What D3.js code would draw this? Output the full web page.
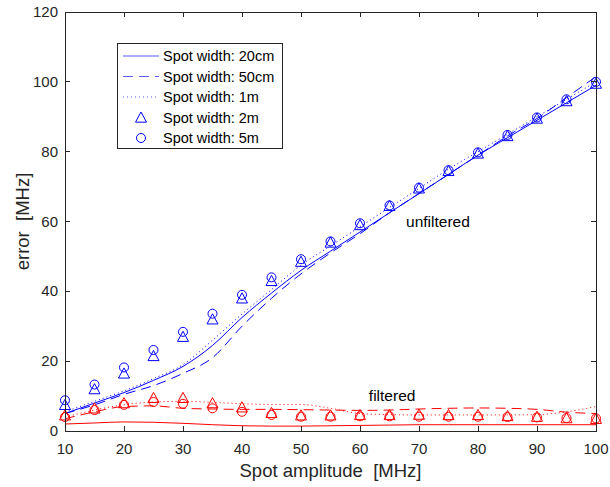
<!DOCTYPE html>
<html>
<head>
<meta charset="utf-8">
<script src="https://cdn.jsdelivr.net/npm/d3@7"></script>
<style>
  body { margin: 0; background: #fff; }
  svg { font-family: Arial, "Liberation Sans", sans-serif; }
</style>
</head>
<body>
<script>
// x values (Spot amplitude, MHz)
const amplitudes = [10, 15, 20, 25, 30, 35, 40, 45, 50, 55, 60, 65, 70, 75, 80, 85, 90, 95, 100]

// unfiltered error (blue)
const unf20cm = [5, 8, 11, 14.5, 18.5, 24.5, 32.5, 39.5, 46, 51.5, 57, 62.5, 68, 73.5, 79, 84, 89, 94, 99]
const unf50cm = [5, 7.5, 10.5, 13, 16.5, 21, 30, 38, 45, 51, 56.5, 62.5, 68, 73.5, 79, 84.5, 89.5, 95.5, 101.5]
const unf1m = [5.5, 8.5, 11.5, 15, 19, 26, 33.5, 40.5, 47.5, 53, 58.5, 64, 69.5, 75, 80, 85, 90, 95, 100]
const unf2m = [7.5, 12, 16.5, 21.5, 27, 32, 38, 43, 48.5, 54, 59, 64.5, 69.5, 74.5, 79.5, 84.5, 89.5, 94.5, 99.5]
const unf5m = [8.8, 13.3, 18.2, 23.2, 28.4, 33.6, 39, 44, 49.2, 54.3, 59.5, 64.6, 69.7, 74.7, 79.8, 84.8, 89.8, 95, 100]

// filtered error (red)
const fil20cm = [2, 2.3, 2.6, 2.5, 2.2, 1.8, 1.5, 1.4, 1.4, 1.5, 1.6, 1.7, 1.8, 1.8, 1.8, 1.8, 1.8, 1.8, 1.8]
const fil50cm = [3.5, 5.5, 7, 7.2, 6.5, 6.3, 6.2, 6.2, 6.1, 6, 5.9, 6, 6.3, 6.5, 6.6, 6.5, 6.2, 5.4, 5]
const fil1m = [4, 6, 7.5, 8.3, 8.5, 8.2, 7.8, 7.6, 7.6, 6.5, 5, 4.7, 4.6, 4.6, 4.6, 4.6, 4.7, 5.5, 7]
const fil2m = [4.5, 6.5, 8, 9.5, 9.5, 8, 6.8, 5.2, 4.5, 4.5, 4.6, 4.6, 4.7, 4.6, 4.6, 4.3, 4.1, 3.7, 3.5]
const fil5m = [4, 6, 7.5, 8.3, 7.8, 6.5, 5.5, 4.6, 4.1, 4.1, 4.2, 4.2, 4.1, 4.1, 4.1, 4, 3.9, 3.7, 3.6]

const legendLabels = ['Spot width: 20cm', 'Spot width: 50cm', 'Spot width: 1m', 'Spot width: 2m', 'Spot width: 5m']
const xTicks = [10, 20, 30, 40, 50, 60, 70, 80, 90, 100]
const yTicks = [0, 20, 40, 60, 80, 100, 120]

const width = 610
const height = 487
const margin = {top: 12, right: 14, bottom: 56, left: 65}
const textColor = '#262626'
const blue = '#0000ff'
const red = '#ff0000'
const dashPattern = '10,6'
const dotPattern = '1,3'

const svg = d3.select('body').append('svg')
    .attr('width', width)
    .attr('height', height)

const x = d3.scaleLinear().domain([10, 100]).range([margin.left, width - margin.right])
const y = d3.scaleLinear().domain([0, 120]).range([height - margin.bottom, margin.top])

const plot = svg.append('g')

const lineGen = d3.line()
    .x(d => x(d[0]))
    .y(d => y(d[1]))
    .curve(d3.curveMonotoneX)

const pairs = (vals) => amplitudes.map((a, i) => [a, vals[i]])

function drawLine(vals, color, dash) {
    plot.append('path')
        .datum(pairs(vals))
        .attr('fill', 'none')
        .attr('stroke', color)
        .attr('stroke-width', 1)
        .attr('stroke-dasharray', dash)
        .attr('d', lineGen)
}

const triangle = (cx, cy, r) => `M${cx},${cy - r}L${cx + r},${cy + r * 0.85}L${cx - r},${cy + r * 0.85}Z`

function drawTriangles(vals, color) {
    plot.append('g').selectAll('path')
        .data(pairs(vals))
        .join('path')
        .attr('d', d => triangle(x(d[0]), y(d[1]), 5.5))
        .attr('fill', 'none')
        .attr('stroke', color)
        .attr('stroke-width', 1)
}

function drawCircles(vals, color) {
    plot.append('g').selectAll('circle')
        .data(pairs(vals))
        .join('circle')
        .attr('cx', d => x(d[0]))
        .attr('cy', d => y(d[1]))
        .attr('r', 4.5)
        .attr('fill', 'none')
        .attr('stroke', color)
        .attr('stroke-width', 1)
}

drawLine(unf20cm, blue, null)
drawLine(unf50cm, blue, dashPattern)
drawLine(unf1m, blue, dotPattern)
drawTriangles(unf2m, blue)
drawCircles(unf5m, blue)

drawLine(fil20cm, red, null)
drawLine(fil50cm, red, dashPattern)
drawLine(fil1m, red, dotPattern)
drawTriangles(fil2m, red)
drawCircles(fil5m, red)

// axes box with inward ticks, MATLAB style
const axisG = svg.append('g')
    .attr('stroke', textColor)
    .attr('fill', 'none')
    .attr('shape-rendering', 'crispEdges')

axisG.append('rect')
    .attr('x', x(10)).attr('y', y(120))
    .attr('width', x(100) - x(10)).attr('height', y(0) - y(120))

const tickLen = 5
axisG.selectAll('line.xb').data(xTicks).join('line')
    .attr('x1', d => x(d)).attr('x2', d => x(d))
    .attr('y1', y(0)).attr('y2', y(0) - tickLen)
axisG.selectAll('line.xt').data(xTicks).join('line')
    .attr('x1', d => x(d)).attr('x2', d => x(d))
    .attr('y1', y(120)).attr('y2', y(120) + tickLen)
axisG.selectAll('line.yl').data(yTicks).join('line')
    .attr('y1', d => y(d)).attr('y2', d => y(d))
    .attr('x1', x(10)).attr('x2', x(10) + tickLen)
axisG.selectAll('line.yr').data(yTicks).join('line')
    .attr('y1', d => y(d)).attr('y2', d => y(d))
    .attr('x1', x(100)).attr('x2', x(100) - tickLen)

svg.append('g').selectAll('text').data(xTicks).join('text')
    .attr('x', d => x(d))
    .attr('y', y(0) + 23)
    .attr('text-anchor', 'middle')
    .attr('font-size', 15)
    .attr('fill', textColor)
    .text(d => d)

svg.append('g').selectAll('text').data(yTicks).join('text')
    .attr('x', x(10) - 7)
    .attr('y', d => y(d) + 5)
    .attr('text-anchor', 'end')
    .attr('font-size', 15)
    .attr('fill', textColor)
    .text(d => d)

svg.append('text')
    .attr('x', (x(10) + x(100)) / 2)
    .attr('y', 477)
    .attr('text-anchor', 'middle')
    .attr('font-size', 18.5)
    .attr('fill', textColor)
    .attr('xml:space', 'preserve')
    .text('Spot amplitude  [MHz]')

svg.append('text')
    .attr('transform', `translate(29,${(y(0) + y(120)) / 2}) rotate(-90)`)
    .attr('text-anchor', 'middle')
    .attr('font-size', 18.5)
    .attr('fill', textColor)
    .attr('xml:space', 'preserve')
    .text('error  [MHz]')

// annotations
svg.append('text')
    .attr('x', x(67.8)).attr('y', y(60) + 5)
    .attr('font-size', 15.5).attr('fill', '#000')
    .text('unfiltered')
svg.append('text')
    .attr('x', x(61.5)).attr('y', y(10) + 5)
    .attr('font-size', 15.5).attr('fill', '#000')
    .text('filtered')

// legend
const legend = svg.append('g').attr('transform', 'translate(117,43)')
legend.append('rect')
    .attr('width', 165).attr('height', 105)
    .attr('fill', '#fff')
    .attr('stroke', '#262626')
    .attr('shape-rendering', 'crispEdges')

const rowY = i => 13 + i * 20.5
const items = legend.selectAll('g.item').data(legendLabels).join('g')
    .attr('transform', (d, i) => `translate(0,${rowY(i)})`)

items.append('text')
    .attr('x', 46).attr('y', 5)
    .attr('font-size', 14.5)
    .attr('fill', '#000')
    .text(d => d)

const dashes = [null, dashPattern, dotPattern]
items.filter((d, i) => i < 3).append('line')
    .attr('x1', 6).attr('x2', 42)
    .attr('y1', 0).attr('y2', 0)
    .attr('stroke', '#5a5aff')
    .attr('stroke-dasharray', (d, i) => dashes[i])
items.filter((d, i) => i === 3).append('path')
    .attr('d', triangle(24, 0, 5.5))
    .attr('fill', 'none').attr('stroke', blue)
items.filter((d, i) => i === 4).append('circle')
    .attr('cx', 24).attr('cy', 0).attr('r', 4.5)
    .attr('fill', 'none').attr('stroke', blue)
</script>
</body>
</html>
